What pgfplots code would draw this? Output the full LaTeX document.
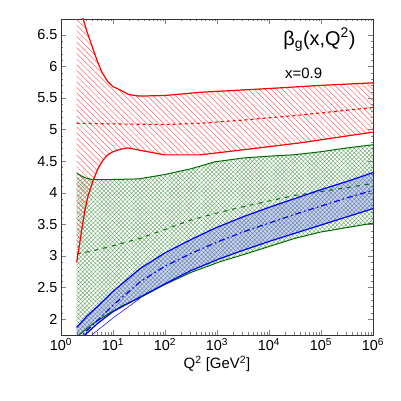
\documentclass[border=0pt]{standalone}
\usepackage{fontspec}
\setmainfont{Liberation Sans}
\usepackage{pgfplots}
\pgfplotsset{compat=1.18}
\usepgfplotslibrary{fillbetween}
\usetikzlibrary{patterns.meta}
\definecolor{dgreen}{rgb}{0,0.42,0}
\begin{document}
\begin{tikzpicture}
\begin{axis}[name=ax, scale only axis, width=312bp, height=316bp,
  xmode=log, xmin=1, xmax=1e6, ymin=1.75, ymax=6.75,
  xtick={1,10,100,1000,10000,100000,1000000},
  xticklabels={10\textsuperscript{0},10\textsuperscript{1},10\textsuperscript{2},10\textsuperscript{3},10\textsuperscript{4},10\textsuperscript{5},10\textsuperscript{6}},
  ytick={2,2.5,3,3.5,4,4.5,5,5.5,6,6.5},
  yticklabels={2,2.5,3,3.5,4,4.5,5,5.5,6,6.5},
  minor y tick num=4,
  tick align=inside, xtick pos=both, ytick pos=both,
  major tick length=5bp, minor tick length=2.5bp,
  tick label style={font=\fontsize{14.5}{16}\selectfont},
  /pgf/number format/assume math mode=true,
  xlabel={Q\textsuperscript{2} [GeV\textsuperscript{2}]},
  xlabel style={font=\fontsize{15}{18}\selectfont, yshift=2bp},
  axis line style={line width=0.7bp, black!80},
]
% green band
\addplot[draw=none, name path=gu] coordinates {(2,4.31)(2.82,4.24)(3.98,4.21)(10,4.21)(31.6,4.22)(100,4.29)(316,4.38)(912,4.49)(3162,4.55)(1e4,4.58)(28840,4.60)(1e5,4.65)(316228,4.71)(1e6,4.76)};
\addplot[draw=none, name path=gl] coordinates {(2,1.72)(3.98,1.92)(7.94,2.08)(15.8,2.22)(33.1,2.34)(100,2.55)(316,2.74)(1148,2.91)(3162,3.02)(1e4,3.15)(31623,3.28)(1e5,3.38)(316228,3.45)(1e6,3.52)};
\addplot[pattern={Hatch[angle=45,distance=3bp,line width=0.35bp]}, pattern color=dgreen!65] fill between[of=gu and gl];
% blue band
\addplot[draw=none, name path=bu] coordinates {(2,1.87)(3.16,2.05)(5.01,2.20)(10,2.44)(33.1,2.80)(100,3.05)(316,3.26)(912,3.44)(3162,3.62)(1e4,3.77)(31623,3.91)(1e5,4.05)(316228,4.18)(1e6,4.32)};
\addplot[draw=none, name path=bl] coordinates {(2,1.64)(2.88,1.75)(5.01,1.93)(10,2.12)(33.1,2.35)(100,2.56)(316,2.77)(1148,2.96)(3162,3.09)(1e4,3.23)(31623,3.36)(1e5,3.49)(316228,3.62)(1e6,3.75)};
\addplot[fill=blue!85!white, fill opacity=0.22, draw=none] fill between[of=bu and bl];
% red band
\addplot[draw=none, name path=ru] coordinates {(2,7.10)(2.51,6.82)(3.16,6.55)(4.07,6.29)(5.01,6.08)(6.17,5.90)(7.94,5.76)(10,5.68)(13.5,5.63)(20,5.555)(31.6,5.53)(100,5.54)(468,5.59)(1e4,5.65)(1e5,5.70)(1e6,5.74)};
\addplot[draw=none, name path=rl] coordinates {(2,2.90)(2.24,3.15)(2.51,3.42)(2.88,3.72)(3.31,3.95)(4.17,4.20)(5.13,4.38)(6.46,4.52)(7.94,4.60)(10,4.65)(14.1,4.69)(19.5,4.71)(39.8,4.66)(100,4.60)(468,4.60)(3162,4.68)(39811,4.79)(1e6,4.96)};
\addplot[pattern={Lines[angle=-45,distance=4bp,line width=0.5bp]}, pattern color=red!60] fill between[of=ru and rl];
% lines
\addplot[dgreen, line width=1bp] coordinates {(2,4.31)(2.82,4.24)(3.98,4.21)(10,4.21)(31.6,4.22)(100,4.29)(316,4.38)(912,4.49)(3162,4.55)(1e4,4.58)(28840,4.60)(1e5,4.65)(316228,4.71)(1e6,4.76)};
\addplot[dgreen, line width=1bp] coordinates {(2,1.72)(3.98,1.92)(7.94,2.08)(15.8,2.22)(33.1,2.34)(100,2.55)(316,2.74)(1148,2.91)(3162,3.02)(1e4,3.15)(31623,3.28)(1e5,3.38)(316228,3.45)(1e6,3.52)};
\addplot[dgreen, line width=1bp, dash pattern=on 4bp off 5bp] coordinates {(2,3.03)(3.98,3.08)(10,3.16)(33.1,3.28)(100,3.42)(316,3.57)(1000,3.68)(3162,3.78)(1e4,3.87)(31623,3.96)(1e5,4.02)(316228,4.08)(1e6,4.15)};
\addplot[blue, line width=1.2bp] coordinates {(2,1.87)(3.16,2.05)(5.01,2.20)(10,2.44)(33.1,2.80)(100,3.05)(316,3.26)(912,3.44)(3162,3.62)(1e4,3.77)(31623,3.91)(1e5,4.05)(316228,4.18)(1e6,4.32)};
\addplot[blue, line width=1.2bp] coordinates {(2,1.64)(2.88,1.75)(5.01,1.93)(10,2.12)(33.1,2.35)(100,2.56)(316,2.77)(1148,2.96)(3162,3.09)(1e4,3.23)(31623,3.36)(1e5,3.49)(316228,3.62)(1e6,3.75)};
\addplot[blue, line width=0.5bp] coordinates {(3.89,1.75)(10,2.02)(33.1,2.33)};
\addplot[blue, line width=1.2bp, dash pattern=on 6bp off 3bp on 1.5bp off 3bp] coordinates {(2,1.66)(3.16,1.82)(10,2.22)(33.1,2.59)(100,2.84)(316,3.04)(1000,3.22)(3162,3.38)(1e4,3.52)(31623,3.66)(1e5,3.79)(316228,3.92)(1e6,4.04)};
\addplot[red, line width=1.2bp] coordinates {(2,7.10)(2.51,6.82)(3.16,6.55)(4.07,6.29)(5.01,6.08)(6.17,5.90)(7.94,5.76)(10,5.68)(13.5,5.63)(20,5.555)(31.6,5.53)(100,5.54)(468,5.59)(1e4,5.65)(1e5,5.70)(1e6,5.74)};
\addplot[red, line width=1.2bp] coordinates {(2,2.90)(2.24,3.15)(2.51,3.42)(2.88,3.72)(3.31,3.95)(4.17,4.20)(5.13,4.38)(6.46,4.52)(7.94,4.60)(10,4.65)(14.1,4.69)(19.5,4.71)(39.8,4.66)(100,4.60)(468,4.60)(3162,4.68)(39811,4.79)(1e6,4.96)};
\addplot[red, line width=1.1bp, dash pattern=on 3bp off 3bp] coordinates {(2,5.10)(10,5.09)(100,5.08)(468,5.10)(3162,5.15)(39811,5.23)(1e6,5.35)};
\node[anchor=west, inner sep=0pt, font=\fontsize{20}{24}\selectfont] at (rel axis cs:0.712,0.934) {β\textsubscript{g}(x,Q\textsuperscript{2})};
\node[anchor=west, inner sep=0pt, font=\fontsize{15}{18}\selectfont] at (rel axis cs:0.718,0.829) {x=0.9};
\end{axis}
\path ([xshift=-61bp,yshift=-66bp]ax.south west) rectangle ([xshift=28bp,yshift=19bp]ax.north east);
\end{tikzpicture}
\end{document}
